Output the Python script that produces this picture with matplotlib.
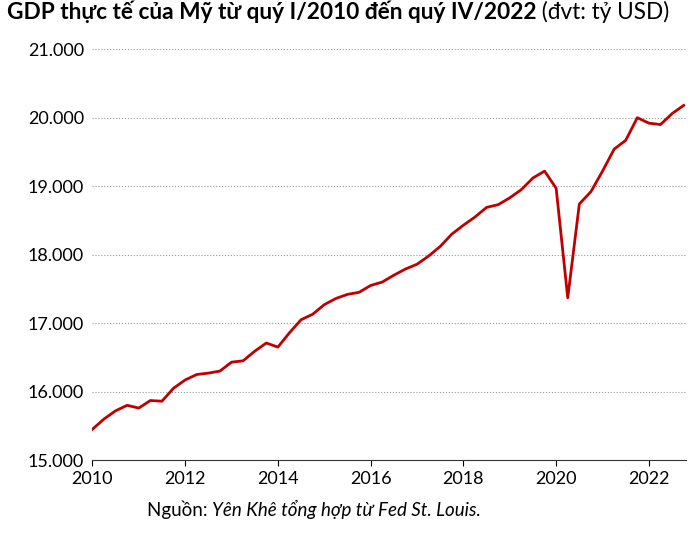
import numpy as np
import matplotlib.pyplot as plt
from matplotlib.ticker import FuncFormatter

plt.rcParams['font.family'] = ['Lato', 'DejaVu Sans']

years = list(range(2010, 2023))
gdp = [15.45, 15.60, 15.72, 15.80,
       15.76, 15.87, 15.86, 16.05,
       16.17, 16.25, 16.27, 16.30,
       16.43, 16.45, 16.59, 16.71,
       16.65, 16.86, 17.05, 17.13,
       17.27, 17.36, 17.42, 17.45,
       17.55, 17.60, 17.70, 17.79,
       17.86, 17.98, 18.12, 18.30,
       18.43, 18.55, 18.69, 18.73,
       18.83, 18.95, 19.12, 19.22,
       18.97, 17.37, 18.74, 18.92,
       19.22, 19.54, 19.67, 20.00,
       19.92, 19.90, 20.06, 20.18]
x = [y + q / 4 for y in years for q in range(4)]

fig = plt.figure(figsize=(7, 5.35), dpi=100)
ax = fig.add_axes([0.132, 0.14, 0.848, 0.768])
ax.plot(x, gdp, color='#c00000', lw=2)
ax.set_xlim(2010, 2022.8)
ax.set_ylim(15, 21)
ax.set_yticks(np.arange(15, 21.1, 1))
ax.set_xticks(range(2010, 2023, 2))
ax.yaxis.set_major_formatter(FuncFormatter(lambda v, p: f'{v:.3f}'))
ax.yaxis.grid(True, ls=':', color='#999999', lw=0.8)
for s in ['top', 'right', 'left']:
    ax.spines[s].set_visible(False)
ax.spines['bottom'].set_color('#333333')
ax.tick_params(axis='y', length=0, labelsize=13, pad=6)
ax.tick_params(axis='x', labelsize=13, length=4)

t1 = fig.text(0.01, 0.965, 'GDP thực tế của Mỹ từ quý I/2010 đến quý IV/2022', fontsize=16.3,
              fontweight='bold', va='baseline')
ax.annotate(' (đvt: tỷ USD)', xy=(1, 0), xycoords=t1, fontsize=16.3, va='bottom')
t2 = fig.text(0.21, 0.035, 'Nguồn: ', fontsize=13.5, va='baseline')
ax.annotate('Yên Khê tổng hợp từ Fed St. Louis.', xy=(1, 0), xycoords=t2,
            fontsize=13.5, style='italic', va='bottom')
fig.savefig('out.png')
